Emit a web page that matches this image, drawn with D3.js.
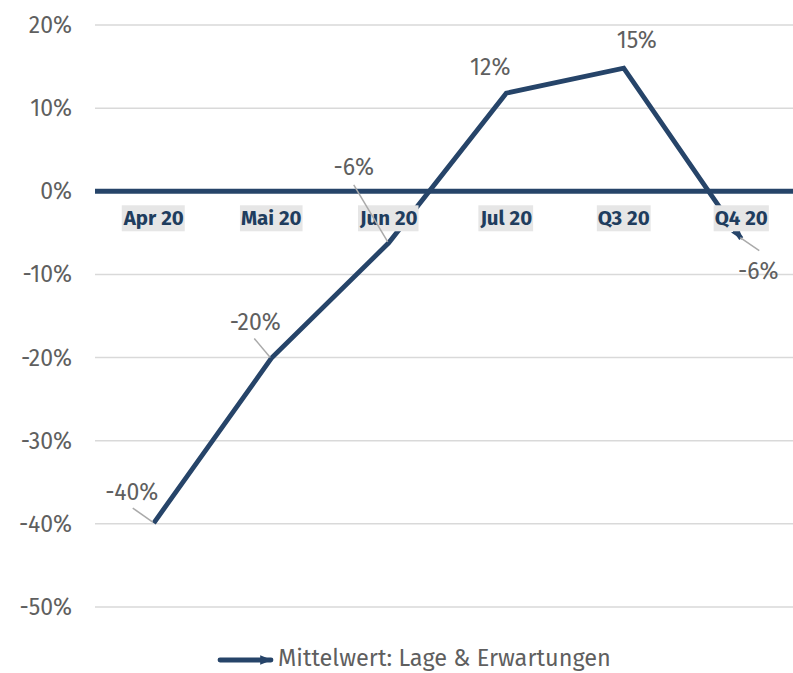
<!DOCTYPE html>
<html>
<head>
<meta charset="utf-8">
<script src="https://cdn.jsdelivr.net/npm/d3@7"></script>
<style>
	body { margin: 0; background: #fff; }
	svg { display: block; font-family: 'Fira Sans', 'Noto Sans', sans-serif; }
</style>
</head>
<body>
<svg id="chart" width="793" height="673"></svg>
<script>
'use strict';

// chart data
var categories = ['Apr 20', 'Mai 20', 'Jun 20', 'Jul 20', 'Q3 20', 'Q4 20'];
var values = [-39.9, -20.1, -6.2, 11.8, 14.8, -5.7];
var valueLabels = ['-40%', '-20%', '-6%', '12%', '15%', '-6%'];
var yTicks = [20, 10, 0, -10, -20, -30, -40, -50];
var seriesName = 'Mittelwert: Lage & Erwartungen';

// label placement relative to the point: [dx, dy, leader line start dx, dy] (null = no leader)
var labelOffsets = [
	[-22, -31, -21, -15],
	[-16, -36, -17, -20],
	[-35, -76, -35, -58],
	[-16, -26, null, null],
	[13, -28, null, null],
	[17, 32, 18, 12]
];

var navy = '#264469';
var svg = d3.select('#chart');

var x = d3.scaleBand().domain(categories).range([95, 800]);
var y = d3.scaleLinear().domain([-50, 20]).range([607, 25]);
var cx = function (d) { return x(d) + x.bandwidth() / 2; };

svg.append('defs').append('marker')
	.attr('id', 'arrow')
	.attr('viewBox', '0 0 10 10')
	.attr('refX', 9).attr('refY', 5)
	.attr('markerUnits', 'userSpaceOnUse')
	.attr('markerWidth', 12).attr('markerHeight', 12)
	.attr('orient', 'auto')
	.append('path')
	.attr('d', 'M0,1L10,5L0,9Z')
	.attr('fill', navy);

// gridlines
svg.append('g').selectAll('line')
	.data(yTicks.filter(function (t) { return t !== 0; }))
	.enter().append('line')
	.attr('x1', 95).attr('x2', 793)
	.attr('y1', function (d) { return y(d); })
	.attr('y2', function (d) { return y(d); })
	.attr('stroke', '#d9d9d9')
	.attr('stroke-width', 1.5);

// y tick labels
svg.append('g').selectAll('text')
	.data(yTicks)
	.enter().append('text')
	.attr('x', 72)
	.attr('y', function (d) { return y(d); })
	.attr('dy', '0.35em')
	.attr('text-anchor', 'end')
	.attr('fill', '#5f5f5f')
	.style('font-size', '23px')
	.text(function (d) { return d + '%'; });

// series line
var pts = categories.map(function (c, i) { return [cx(c), y(values[i])]; });
svg.append('path')
	.attr('d', d3.line()(pts))
	.attr('fill', 'none')
	.attr('stroke', navy)
	.attr('stroke-width', 4.8)
	.attr('stroke-linejoin', 'miter')
	.attr('marker-end', 'url(#arrow)');

// zero line
svg.append('line')
	.attr('x1', 95).attr('x2', 793)
	.attr('y1', y(0)).attr('y2', y(0))
	.attr('stroke', navy)
	.attr('stroke-width', 5);

// category labels with background
var cat = svg.append('g').selectAll('g')
	.data(categories)
	.enter().append('g')
	.attr('transform', function (d) { return 'translate(' + cx(d) + ',' + (y(0) + 27) + ')'; });
cat.append('text')
	.attr('text-anchor', 'middle')
	.attr('dy', '0.35em')
	.attr('fill', '#1f3d5e')
	.style('font-size', '20.5px')
	.style('font-weight', 'bold')
	.text(function (d) { return d; })
	.each(function () {
		var b = this.getBBox();
		d3.select(this.parentNode).insert('rect', 'text')
			.attr('x', b.x - 1).attr('y', -13)
			.attr('width', b.width + 2).attr('height', 26)
			.attr('fill', '#e6e6e6');
	});

// data labels
var lbl = svg.append('g');
categories.forEach(function (c, i) {
	var px = cx(c), py = y(values[i]);
	var o = labelOffsets[i];
	if (o[2] !== null) {
		lbl.append('line')
			.attr('x1', px + o[2]).attr('y1', py + o[3])
			.attr('x2', px - 1).attr('y2', py - 1)
			.attr('stroke', '#aaa')
			.attr('stroke-width', 1.5);
	}
	lbl.append('text')
		.attr('x', px + o[0])
		.attr('y', py + o[1])
		.attr('dy', '0.35em')
		.attr('text-anchor', 'middle')
		.attr('fill', '#5f5f5f')
		.style('font-size', '23px')
		.text(valueLabels[i]);
});

// legend
var lg = svg.append('g').attr('transform', 'translate(220,660)');
lg.append('line')
	.attr('x1', 0).attr('x2', 51)
	.attr('y1', 0).attr('y2', 0)
	.attr('stroke', navy)
	.attr('stroke-width', 4.8)
	.attr('stroke-linecap', 'round')
	.attr('marker-end', 'url(#arrow)');
lg.append('text')
	.attr('x', 58)
	.attr('y', 6)
	.attr('fill', '#5f5f5f')
	.style('font-size', '23.5px')
	.text(seriesName);
</script>
</body>
</html>
